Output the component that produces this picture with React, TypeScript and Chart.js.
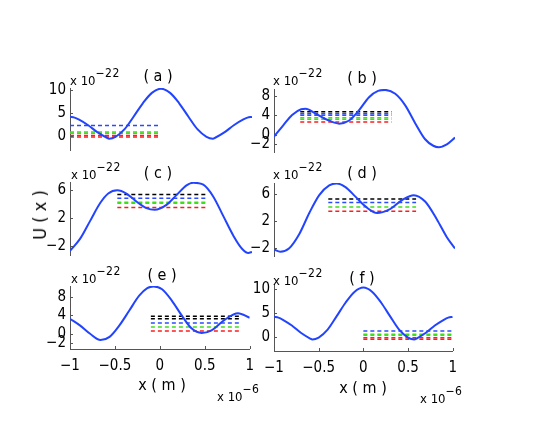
import React, { useEffect, useRef } from "react";
import { Chart, registerables } from "chart.js";

Chart.register(...registerables);

// ---------- data (x in units of 1e-6 m, U in units of 1e-22) ----------
// panels (a) and (f) share the same potential curve
const xAF = [-1, -0.95, -0.9, -0.8, -0.7, -0.6, -0.57, -0.5, -0.4, -0.3, -0.2, -0.1, 0, 0.1, 0.2, 0.3, 0.4, 0.5, 0.57, 0.6, 0.7, 0.8, 0.9, 0.95, 1];
const uAF = [4.15, 4.0, 3.55, 2.35, 0.85, -0.3, -0.55, -0.15, 1.5, 4.25, 7.1, 9.35, 10.25, 9.35, 7.1, 4.25, 1.5, -0.15, -0.55, -0.3, 0.85, 2.35, 3.55, 4.0, 4.15];

const xB = [-1, -0.9, -0.8, -0.7, -0.65, -0.55, -0.4, -0.28, -0.17, -0.06, 0.05, 0.15, 0.23, 0.34, 0.45, 0.56, 0.67, 0.76, 0.82, 0.91, 1];
const uB = [-0.4, 1.9, 4.1, 5.3, 5.4, 4.5, 3.0, 2.3, 2.95, 5.1, 7.8, 9.1, 9.3, 8.5, 6.1, 2.4, -0.95, -2.3, -2.6, -2.0, -0.6];

const xC = [-1, -0.89, -0.78, -0.67, -0.58, -0.48, -0.38, -0.27, -0.16, -0.07, 0.06, 0.17, 0.28, 0.355, 0.465, 0.575, 0.685, 0.795, 0.89, 0.96, 1];
const uC = [-2.7, -1.0, 1.55, 4.1, 5.5, 5.97, 5.5, 4.35, 3.42, 3.18, 3.88, 5.27, 6.67, 7.04, 6.76, 5.05, 2.26, -0.53, -2.4, -3.0, -2.85];

const xD = [-1, -0.93, -0.835, -0.72, -0.61, -0.5, -0.39, -0.31, -0.21, -0.1, 0.01, 0.14, 0.27, 0.415, 0.545, 0.67, 0.8, 0.91, 1];
const uD = [-2.15, -2.47, -2.0, 0.13, 3.2, 5.82, 7.24, 7.53, 7.0, 5.6, 4.17, 3.2, 3.69, 5.1, 5.82, 4.88, 2.26, -0.34, -2.0];

const xE = [-1, -0.89, -0.78, -0.66, -0.56, -0.45, -0.34, -0.23, -0.14, -0.07, 0.025, 0.135, 0.245, 0.355, 0.465, 0.575, 0.72, 0.87, 1];
const uE = [3.23, 1.8, 0.04, -1.38, -0.68, 1.8, 5.0, 8.2, 9.83, 10.2, 9.6, 7.1, 3.9, 1.1, 0.17, 0.74, 3.0, 4.43, 3.45];

// dashed energy levels: [colour key, level]
const levelsA: [string, number][] = [["b", 2.3], ["g", 0.9], ["g", 0.6], ["r", 0.15], ["r", -0.2]];
const levelsB: [string, number][] = [["k", 4.77], ["b", 4.36], ["b", 4.04], ["g", 3.5], ["g", 3.23], ["r", 2.63]];
const levelsC: [string, number][] = [["k", 5.37], ["b", 4.81], ["g", 4.25], ["g", 4.1], ["r", 3.51]];
const levelsD: [string, number][] = [["k", 5.25], ["b", 4.74], ["g", 4.07], ["r", 3.46]];
const levelsE: [string, number][] = [["k", 3.79], ["k", 3.23], ["b", 2.3], ["g", 1.45], ["r", 0.6]];
const levelsF: [string, number][] = [["b", 1.24], ["g", 0.56], ["g", 0.35], ["r", -0.2], ["r", -0.48]];

// x-extent of the dashed levels
const spanA = [-1, 0];
const spanB = [-0.71, 0.3];
const spanC = [-0.48, 0.49];
const spanD = [-0.4, 0.57];
const spanE = [-0.1, 0.9];
const spanF = [0, 1];

// tick values
const yTicksA = [0, 5, 10];
const yTicksB = [-2, 0, 4, 8];
const yTicksC = [-2, 2, 6];
const yTicksD = [-2, 2, 6];
const yTicksE = [-2, 0, 4, 8];
const yTicksF = [0, 5, 10];
const xTicks = [-1, -0.5, 0, 0.5, 1];

// ---------- styles ----------
const FONT = "'Liberation Sans Narrow', 'DejaVu Sans Condensed', 'Liberation Sans', sans-serif";
const AXIS = "#555555";
const COLORS: Record<string, string> = { k: "#000000", b: "#2a4cff", g: "#3ede1c", r: "#ff1c1c" };
const CURVE = "#2244ff";

const fmt = (v: number) => (v < 0 ? "\u2212" + String(Math.abs(v)) : String(v));

type PanelCfg = {
  label: string;
  xs: number[];
  us: number[];
  levels: [string, number][];
  span: number[];
  yMin: number;
  yMax: number;
  yTicks: number[];
  left: number;
  top: number;
  bottom: number;
  width: number;
  showX: boolean;
};

const panels: PanelCfg[] = [
  { label: "a", xs: xAF, us: uAF, levels: levelsA, span: spanA, yMin: -3, yMax: 10.4, yTicks: yTicksA, left: 70, top: 87, bottom: 151, width: 182, showX: false },
  { label: "b", xs: xB, us: uB, levels: levelsB, span: spanB, yMin: -3.6, yMax: 9.5, yTicks: yTicksB, left: 274, top: 88, bottom: 153, width: 181, showX: false },
  { label: "c", xs: xC, us: uC, levels: levelsC, span: spanC, yMin: -3.3, yMax: 7.15, yTicks: yTicksC, left: 70, top: 181, bottom: 256, width: 182, showX: false },
  { label: "d", xs: xD, us: uD, levels: levelsD, span: spanD, yMin: -3.1, yMax: 7.6, yTicks: yTicksD, left: 274, top: 182, bottom: 257, width: 181, showX: false },
  { label: "e", xs: xE, us: uE, levels: levelsE, span: spanE, yMin: -3.3, yMax: 10.3, yTicks: yTicksE, left: 70, top: 285, bottom: 349, width: 182, showX: true },
  { label: "f", xs: xAF, us: uAF, levels: levelsF, span: spanF, yMin: -2.95, yMax: 11, yTicks: yTicksF, left: 274, top: 283, bottom: 351, width: 181, showX: true },
];

const Y_W = 34;
const PAD_T = 12;
const PAD_B = 12;
const PAD_R = 10;
const X_H = 34;

const inwardTicks = {
  id: "inwardTicks",
  afterDraw(chart: any) {
    const ctx = chart.ctx;
    const area = chart.chartArea;
    ctx.save();
    ctx.strokeStyle = AXIS;
    ctx.lineWidth = 1;
    const ys = chart.scales.y;
    ys.ticks.forEach((t: any) => {
      const py = Math.round(ys.getPixelForValue(t.value)) + 0.5;
      ctx.beginPath();
      ctx.moveTo(area.left, py);
      ctx.lineTo(area.left + 3, py);
      ctx.stroke();
    });
    const xsScale = chart.scales.x;
    if (xsScale.options.display) {
      xsScale.ticks.forEach((t: any) => {
        const px = Math.round(xsScale.getPixelForValue(t.value)) + 0.5;
        ctx.beginPath();
        ctx.moveTo(px, area.bottom);
        ctx.lineTo(px, area.bottom - 3);
        ctx.stroke();
      });
    }
    ctx.restore();
  },
};

function Panel({ p }: { p: PanelCfg }) {
  const ref = useRef<HTMLCanvasElement>(null);
  const w = Y_W + p.width + PAD_R;
  const h = PAD_T + (p.bottom - p.top) + (p.showX ? X_H : PAD_B);

  useEffect(() => {
    if (!ref.current) return;
    const curve = {
      data: p.xs.map((x, i) => ({ x, y: p.us[i] })),
      borderColor: CURVE,
      borderWidth: 2,
      pointRadius: 0,
      cubicInterpolationMode: "monotone" as const,
      order: 0,
    };
    const dashes = p.levels.map(([c, v]) => ({
      data: [
        { x: p.span[0], y: v },
        { x: p.span[1], y: v },
      ],
      borderColor: COLORS[c],
      borderWidth: 1.5,
      borderDash: [4, 3],
      pointRadius: 0,
      order: 1,
    }));
    const tickFont = { family: FONT, size: 15 };
    const chart = new Chart(ref.current, {
      type: "line",
      data: { datasets: [curve, ...dashes] as any },
      options: {
        animation: false,
        responsive: false,
        events: [],
        layout: { padding: { top: PAD_T, right: PAD_R, bottom: p.showX ? 0 : PAD_B, left: 0 } },
        plugins: { legend: { display: false }, tooltip: { enabled: false }, title: { display: false } },
        scales: {
          x: {
            type: "linear",
            min: -1,
            max: 1,
            display: p.showX,
            grid: { display: false, drawTicks: false },
            border: { display: true, color: AXIS, width: 1 },
            ticks: { padding: 8, font: tickFont, color: "#000", autoSkip: false, maxRotation: 0, callback: (v: any) => fmt(Number(v)) },
            afterBuildTicks: (s: any) => {
              s.ticks = xTicks.map((v) => ({ value: v }));
            },
            afterFit: (s: any) => {
              s.height = p.showX ? X_H : 0;
            },
          },
          y: {
            type: "linear",
            min: p.yMin,
            max: p.yMax,
            grid: { display: false, drawTicks: false },
            border: { display: true, color: AXIS, width: 1 },
            ticks: { padding: 4, font: tickFont, color: "#000", autoSkip: false, callback: (v: any) => fmt(Number(v)) },
            afterBuildTicks: (s: any) => {
              s.ticks = p.yTicks.map((v) => ({ value: v }));
            },
            afterFit: (s: any) => {
              s.width = Y_W;
            },
          },
        },
      },
      plugins: [inwardTicks],
    });
    return () => chart.destroy();
  }, [p]);

  return (
    <canvas
      ref={ref}
      width={w}
      height={h}
      style={{ position: "absolute", left: p.left - Y_W, top: p.top - PAD_T, width: w, height: h }}
    />
  );
}

const Txt = ({ x, y, size, children, center = true }: any) => (
  <div
    style={{
      position: "absolute",
      left: x,
      top: y,
      transform: center ? "translate(-50%, -50%)" : "translate(0, -50%)",
      font: `${size}px ${FONT}`,
      whiteSpace: "pre",
      lineHeight: 1,
      color: "#000",
    }}
  >
    {children}
  </div>
);

const Sci = ({ x, y, exp }: { x: number; y: number; exp: string }) => (
  <Txt x={x} y={y} size={13} center={false}>
    <span>x 10</span>
    <span style={{ fontSize: 12, position: "relative", top: -8, letterSpacing: 0.5 }}>{exp}</span>
  </Txt>
);

const titlePos = [
  [158, 76],
  [362, 78],
  [158, 173],
  [362, 173],
  [162, 275],
  [362, 278],
];
const sciPos = [
  [70, 80],
  [273, 80],
  [71, 174],
  [273, 174],
  [71, 278],
  [273, 280],
];

export default function App() {
  return (
    <div style={{ position: "fixed", left: 0, top: 0, width: 545, height: 436, background: "#fff", overflow: "hidden" }}>
      {panels.map((p) => (
        <Panel key={p.label} p={p} />
      ))}
      {panels.map((p, i) => (
        <Txt key={"t" + p.label} x={titlePos[i][0]} y={titlePos[i][1]} size={16}>
          {`( ${p.label} )`}
        </Txt>
      ))}
      {panels.map((p, i) => (
        <Sci key={"s" + p.label} x={sciPos[i][0]} y={sciPos[i][1]} exp={"\u221222"} />
      ))}
      <div
        style={{
          position: "absolute",
          left: 40,
          top: 215,
          transform: "translate(-50%, -50%) rotate(-90deg)",
          font: `18px ${FONT}`,
          whiteSpace: "pre",
          lineHeight: 1,
        }}
      >
        {"U ( x )"}
      </div>
      <Txt x={162} y={385} size={16}>{"x ( m )"}</Txt>
      <Txt x={363} y={388} size={16}>{"x ( m )"}</Txt>
      <Sci x={217} y={396} exp={"\u22126"} />
      <Sci x={420} y={398} exp={"\u22126"} />
    </div>
  );
}
